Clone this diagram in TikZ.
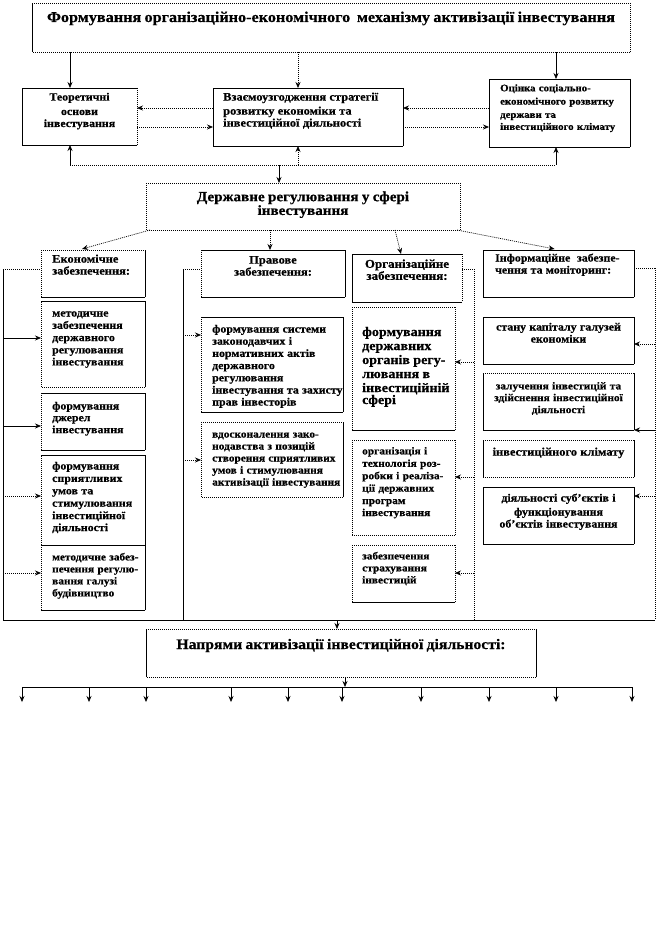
\documentclass[tikz,border=0pt]{standalone}
\usepackage{fontspec}
\setmainfont{Liberation Serif}[FakeStretch=1.08, BoldFeatures={FakeBold=0.6}]
\usetikzlibrary{arrows.meta,fit}
\newcommand\fsz[2]{\fontsize{#1}{#2}\selectfont}
\newcommand\edg[5]{%
 \draw[#2] (#1.north west) -- (#1.north east);
 \draw[#3] (#1.north east) -- (#1.south east);
 \draw[#4] (#1.south east) -- (#1.south west);
 \draw[#5] (#1.south west) -- (#1.north west);}
\newcommand\bx[5]{\coordinate (#1-a) at (#2,#3); \coordinate (#1-b) at (#4,#5); \node[bxframe, fit=(#1-a)(#1-b)] (#1) {};}
\tikzset{
 sl/.style={line width=0.7pt, solid},
 dl/.style={line width=0.7pt, dash pattern=on 1pt off 1pt},
 bxframe/.style={inner sep=0pt, outer sep=0pt, draw=none},
 arr/.style={-{Stealth[length=6pt,width=5pt]}},
 tl/.style={anchor=base west, text width=200pt, align=left, inner sep=0pt, font=\bfseries},
 tc/.style={anchor=base, text width=640pt, align=center, inner sep=0pt, font=\bfseries},
}
\begin{document}
\begin{tikzpicture}[x=1pt,y=-1pt]
\fill[white] (0,0) rectangle (665,936);
\useasboundingbox (0,0) rectangle (665,936);
% boxes
\bx{T}{32}{3}{630}{52}
\bx{A}{22}{88}{137}{145}
\bx{B}{213}{88}{403}{146}
\bx{C}{489}{79}{630}{147}
\bx{D}{146}{183}{460}{230}
\bx{E0}{41}{250}{145}{297}
\bx{E1}{41}{301}{145}{387}
\bx{E2}{41}{393}{145}{450}
\bx{E3}{41}{455}{145}{545}
\bx{E4}{41}{545}{145}{610}
\bx{P0}{201}{250}{345}{297}
\bx{P1}{201}{317}{343}{412}
\bx{P2}{201}{422}{343}{497}
\bx{O0}{352}{254}{462}{302}
\bx{O1}{352}{307}{455}{430}
\bx{O2}{352}{440}{455}{535}
\bx{O3}{352}{545}{455}{602}
\bx{I0}{483}{250}{634}{297}
\bx{I1}{483}{317}{634}{364}
\bx{I2}{483}{373}{634}{430}
\bx{I3}{483}{440}{634}{477}
\bx{I4}{483}{487}{634}{544}
\bx{N}{146}{629}{536}{677}
% edges (top, right, bottom, left)
\edg{T}{dl}{dl}{dl}{sl}
\edg{A}{sl}{dl}{sl}{sl}
\edg{B}{sl}{sl}{sl}{sl}
\edg{C}{sl}{sl}{sl}{sl}
\edg{D}{dl}{dl}{dl}{dl}
\edg{E0}{dl}{sl}{sl}{dl}
\edg{E1}{sl}{sl}{dl}{dl}
\edg{E2}{sl}{sl}{sl}{dl}
\edg{E3}{sl}{sl}{sl}{dl}
\edg{E4}{sl}{sl}{sl}{dl}
\edg{P0}{sl}{sl}{sl}{dl}
\edg{P1}{sl}{sl}{sl}{dl}
\edg{P2}{dl}{sl}{dl}{dl}
\edg{O0}{sl}{dl}{sl}{sl}
\edg{O1}{dl}{dl}{sl}{dl}
\edg{O2}{dl}{dl}{dl}{dl}
\edg{O3}{dl}{dl}{sl}{dl}
\edg{I0}{sl}{sl}{sl}{sl}
\edg{I1}{sl}{sl}{sl}{sl}
\edg{I2}{dl}{sl}{sl}{sl}
\edg{I3}{dl}{sl}{dl}{sl}
\edg{I4}{sl}{sl}{sl}{sl}
\edg{N}{dl}{sl}{dl}{sl}
% texts
\node[tc] (Tt) at (331,22) {\fsz{15}{17}Формування організаційно-економічного \ механізму активізації інвестування};
\node[tc] (At) at (79.5,100.5) {\fsz{11}{14.5}Теоретичні\\основи\\інвестування};
\node[tl] (Bt) at (223,100.6) {\fsz{11.5}{14}Взаємоузгодження стратегії\\розвитку економіки та\\інвестиційної діяльності};
\node[tl] (Ct) at (500,91.3) {\fsz{10}{13.3}Оцінка соціально-\\економічного розвитку\\держави та\\інвестиційного клімату};
\node[tc] (Dt) at (303,201.2) {\fsz{14}{20}Державне регулювання у сфері\\інвестування};
\node[tl] (E0t) at (52,262.6) {\fsz{11.5}{15.5}Економічне\\забезпечення:};
\node[tc] (P0t) at (273,263.6) {\fsz{11.5}{15}Правове\\забезпечення:};
\node[tc] (O0t) at (407,267.8) {\fsz{12}{15}Організаційне\\забезпечення:};
\node[tl] (I0t) at (495,261.5) {\fsz{11}{15.5}Інформаційне\ \ забезпе-\\чення та моніторинг:};
\node[tl] (E1t) at (52,316.5) {\fsz{11}{12.3}методичне\\забезпечення\\державного\\регулювання\\інвестування};
\node[tl] (E2t) at (52,409.5) {\fsz{11}{11.7}формування\\джерел\\інвестування};
\node[tl] (E3t) at (52,469.5) {\fsz{11}{12.4}формування\\сприятливих\\умов та\\стимулювання\\інвестиційної\\діяльності};
\node[tl] (E4t) at (52,560.4) {\fsz{10.5}{12}методичне забез-\\печення регулю-\\вання галузі\\будівництво};
\node[tl] (P1t) at (212,332.5) {\fsz{11}{12.2}формування системи\\законодавчих і\\нормативних актів\\державного\\регулювання\\інвестування та захисту\\прав інвесторів};
\node[tl] (P2t) at (212,437.5) {\fsz{10.5}{12}вдосконалення зако-\\нодавства з позицій\\створення сприятливих\\умов і стимулювання\\активізації інвестування};
\node[tl] (O1t) at (362,336) {\fsz{13}{14}формування\\державних\\органів регу-\\лювання в\\інвестиційній\\сфері};
\node[tl] (O2t) at (362,454.4) {\fsz{10.5}{12.4}організація і\\технологія роз-\\робки і реаліза-\\ції державних\\програм\\інвестування};
\node[tl] (O3t) at (362,559.4) {\fsz{10.5}{12}забезпечення\\страхування\\інвестицій};
\node[tc] (I1t) at (558.5,330.5) {\fsz{11}{17}стану капіталу галузей\\економіки};
\node[tc] (I2t) at (558.5,389.4) {\fsz{10.5}{11.7}залучення інвестицій та\\здійснення інвестиційної\\діяльності};
\node[tc] (I3t) at (558.5,455.6) {\fsz{11.5}{13}інвестиційного клімату};
\node[tc] (I4t) at (558.5,501.5) {\fsz{11}{14}діяльності суб’єктів і\\функціонування\\об’єктів інвестування};
\node[tc] (Nt) at (341,649) {\fsz{14.5}{16}Напрями активізації інвестиційної діяльності:};
% top connectors
\coordinate (xL) at (70,0);
\coordinate (xM) at (298,0);
\coordinate (xR) at (556,0);
\coordinate (yU) at (0,108);
\coordinate (yW) at (0,127);
\coordinate (hub) at (279,165);
\draw[sl,arr] (xL |- T.south) -- (xL |- A.north);
\draw[dl,arr] (xM |- T.south) -- (xM |- B.north);
\draw[sl,arr] (xR |- T.south) -- (xR |- C.north);
\draw[dl,arr] (B.west |- yU) -- (A.east |- yU);
\draw[dl,arr] (A.east |- yW) -- (B.west |- yW);
\draw[dl,arr] (C.west |- yU) -- (B.east |- yU);
\draw[dl,arr] (B.east |- yW) -- (C.west |- yW);
\draw[dl] (xL |- hub) -- (xR |- hub);
\draw[sl,arr] (xL |- hub) -- (xL |- A.south);
\draw[dl,arr] (xM |- hub) -- (xM |- B.south);
\draw[sl,arr] (xR |- hub) -- (xR |- C.south);
\draw[sl,arr] (hub) -- (hub |- D.north);
% from D
\coordinate (xP) at (270,0);
\draw[dl,arr] ([xshift=4pt]D.south west) -- ([xshift=-11pt,yshift=1pt]E0.north);
\draw[dl,arr] (xP |- D.south) -- (xP |- P0.north);
\draw[dl,arr] ([xshift=-65pt]D.south east) -- ([xshift=-6pt]O0.north);
\draw[dl,arr] ([xshift=-3pt]D.south east) -- ([xshift=-4pt,yshift=1pt]I0.north);
% brackets
\coordinate (Lx) at (3,269);
\coordinate (Px) at (183,269);
\coordinate (Ox) at (474,269);
\coordinate (Ix) at (655,268);
\coordinate (bot) at (0,620);
\draw[dl] (Lx) -- (E0.west |- Lx);
\draw[sl] (Lx) -- (Lx |- bot);
\draw[dl] (Px) -- (P0.west |- Px);
\draw[sl] (Px) -- (Px |- bot);
\draw[dl] (O0.east |- Ox) -- (Ox);
\draw[dl] (Ox) -- (Ox |- bot);
\draw[dl] (I0.east |- Ix) -- (Ix);
\draw[dl] (Ix) -- (Ix |- bot);
\draw[sl] (Lx |- bot) -- (Ix |- bot);
% column arrows
\coordinate (a1) at (0,338);
\coordinate (a2) at (0,426);
\coordinate (a3) at (0,496);
\coordinate (a4) at (0,573);
\draw[sl,arr] (Lx |- a1) -- (E1.west |- a1);
\draw[sl,arr] (Lx |- a2) -- (E2.west |- a2);
\draw[dl,arr] (Lx |- a3) -- (E3.west |- a3);
\draw[dl,arr] (Lx |- a4) -- (E4.west |- a4);
\coordinate (b1) at (0,335);
\coordinate (b2) at (0,460);
\draw[dl,arr] (Px |- b1) -- (P1.west |- b1);
\draw[dl,arr] (Px |- b2) -- (P2.west |- b2);
\coordinate (c1) at (0,362);
\coordinate (c2) at (0,477);
\coordinate (c3) at (0,573);
\draw[dl,arr] (Ox |- c1) -- (O1.east |- c1);
\draw[dl,arr] (Ox |- c2) -- (O2.east |- c2);
\draw[dl,arr] (Ox |- c3) -- (O3.east |- c3);
\coordinate (d1) at (0,344);
\coordinate (d2) at (0,430);
\coordinate (d3) at (0,496);
\draw[dl,arr] (Ix |- d1) -- (I1.east |- d1);
\draw[sl,arr] (Ix |- d2) -- (I2.east |- d2);
\draw[dl,arr] (Ix |- d3) -- (I4.east |- d3);
% to N
\coordinate (nin) at (337,620);
\draw[sl,arr] (nin) -- (nin |- N.north);
% fan
\coordinate (fan) at (345,687);
\draw[sl,arr] (fan |- N.south) -- (fan);
\foreach \xx [count=\i] in {22,89,146,231,288,342,421,489,556,632}{
  \coordinate (f\i) at (\xx,702);
}
\draw[sl] (f1 |- fan) -- (f10 |- fan);
\foreach \i in {1,...,10}{
  \draw[sl,arr] (f\i |- fan) -- (f\i);
}
\end{tikzpicture}
\end{document}
